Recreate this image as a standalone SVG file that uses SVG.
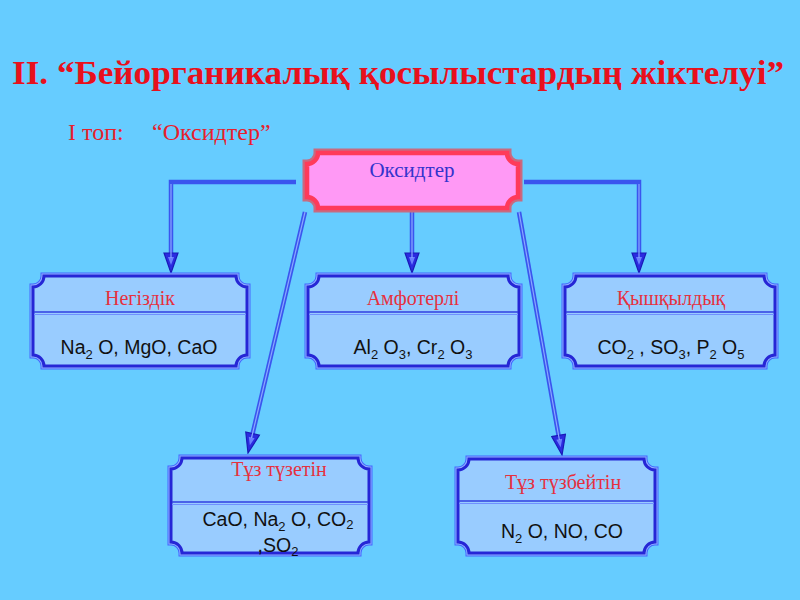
<svg xmlns="http://www.w3.org/2000/svg" width="800" height="600" viewBox="0 0 800 600">
<style>
.title{font-family:"Liberation Serif","Times New Roman",serif;font-weight:bold;font-size:34px;fill:#E8101C}
.sub1{font-family:"Liberation Serif","Times New Roman",serif;font-size:24px;fill:#E8202C}
.hdr{font-family:"Liberation Serif","Times New Roman",serif;font-size:20px;fill:#E6303E;text-anchor:middle}
.cnt{font-family:"Liberation Sans",Arial,sans-serif;font-size:19.5px;fill:#111;text-anchor:middle}
.s{font-size:13px}
.b1{fill:none;stroke:#4466FF;stroke-width:7}
.b2{fill:none;stroke:#8FB0FF;stroke-width:5}
.b3{fill:#99CCFF;stroke:#2626D6;stroke-width:3}
.dv{stroke:#3040E0;stroke-width:1.5}
.dv2{stroke:#7090FF;stroke-width:1}
.c{fill:none;stroke:#3A55EE;stroke-width:4.5}
.ci{fill:none;stroke:#8AA8FF;stroke-width:1.2}
</style>
<defs>
<marker id="ah" markerUnits="userSpaceOnUse" markerWidth="22" markerHeight="16" viewBox="0 0 22 16" refX="11" refY="8" orient="auto">
<path d="M1,1 L21,8 L1,15 Z" fill="#2B2BE0" stroke="#1A1AB8" stroke-width="1.2"/>
<path d="M5,5 L13,8 L5,11 Z" fill="#6A80FF"/>
</marker>
</defs>
<rect width="800" height="600" fill="#66CCFF"/>
<text class="title" x="12" y="84" textLength="772" lengthAdjust="spacingAndGlyphs">II. “Бейорганикалық қосылыстардың жіктелуі”</text>
<text class="sub1" x="68" y="140">I топ:</text>
<text class="sub1" x="152" y="140">“Оксидтер”</text>

<g id="connectors">
<path class="c" d="M296,182 H171 V263" marker-end="url(#ah)"/>
<path class="ci" d="M171,184 V258"/>
<path class="c" d="M524,182 H639 V263" marker-end="url(#ah)"/>
<path class="ci" d="M639,184 V258"/>
<path class="c" d="M412,212 V263" marker-end="url(#ah)"/>
<path class="ci" d="M412,212 V258"/>
<path class="c" d="M305,212 L250.3,443.3" marker-end="url(#ah)"/>
<path class="ci" d="M305,212 L251.5,438"/>
<path class="c" d="M519,212 L560.3,445.2" marker-end="url(#ah)"/>
<path class="ci" d="M519,212 L559.4,440"/>
</g>

<g id="oksidter">
<path d="M318,153 H507 A11 11 0 0 0 518,164 V197 A11 11 0 0 0 507,208 H318 A11 11 0 0 0 307,197 V164 A11 11 0 0 0 318,153 Z" fill="#FF99F5" stroke="#C86A80" stroke-width="9"/>
<path d="M318,153 H507 A11 11 0 0 0 518,164 V197 A11 11 0 0 0 507,208 H318 A11 11 0 0 0 307,197 V164 A11 11 0 0 0 318,153 Z" fill="#FF99F5" stroke="#FF3A5A" stroke-width="4.5"/>
<text x="412" y="177" font-family="'Liberation Serif','Times New Roman',serif" font-size="21" fill="#3333CC" text-anchor="middle">Оксидтер</text>
</g>

<g id="negizdik">
<path class="b1" d="M44,276 H236 A11 11 0 0 0 247,287 V355 A11 11 0 0 0 236,366 H44 A11 11 0 0 0 33,355 V287 A11 11 0 0 0 44,276 Z"/>
<path class="b2" d="M44,276 H236 A11 11 0 0 0 247,287 V355 A11 11 0 0 0 236,366 H44 A11 11 0 0 0 33,355 V287 A11 11 0 0 0 44,276 Z"/>
<path class="b3" d="M44,276 H236 A11 11 0 0 0 247,287 V355 A11 11 0 0 0 236,366 H44 A11 11 0 0 0 33,355 V287 A11 11 0 0 0 44,276 Z"/>
<line class="dv" x1="34" y1="312" x2="246" y2="312"/><line class="dv2" x1="34" y1="314.5" x2="246" y2="314.5"/>
<text class="hdr" x="140" y="305">Негіздік</text>
<text class="cnt" x="139" y="354">Na<tspan class="s" dy="5">2</tspan><tspan dy="-5"> O, MgO, CaO</tspan></text>
</g>

<g id="amfoterli">
<path class="b1" d="M319,276 H508 A11 11 0 0 0 519,287 V355 A11 11 0 0 0 508,366 H319 A11 11 0 0 0 308,355 V287 A11 11 0 0 0 319,276 Z"/>
<path class="b2" d="M319,276 H508 A11 11 0 0 0 519,287 V355 A11 11 0 0 0 508,366 H319 A11 11 0 0 0 308,355 V287 A11 11 0 0 0 319,276 Z"/>
<path class="b3" d="M319,276 H508 A11 11 0 0 0 519,287 V355 A11 11 0 0 0 508,366 H319 A11 11 0 0 0 308,355 V287 A11 11 0 0 0 319,276 Z"/>
<line class="dv" x1="309" y1="312" x2="518" y2="312"/><line class="dv2" x1="309" y1="314.5" x2="518" y2="314.5"/>
<text class="hdr" x="413" y="305">Амфотерлі</text>
<text class="cnt" x="413" y="354">Al<tspan class="s" dy="5">2</tspan><tspan dy="-5"> O</tspan><tspan class="s" dy="5">3</tspan><tspan dy="-5">, Cr</tspan><tspan class="s" dy="5">2</tspan><tspan dy="-5"> O</tspan><tspan class="s" dy="5">3</tspan></text>
</g>

<g id="qyshqyldyq">
<path class="b1" d="M576,276 H764 A11 11 0 0 0 775,287 V355 A11 11 0 0 0 764,366 H576 A11 11 0 0 0 565,355 V287 A11 11 0 0 0 576,276 Z"/>
<path class="b2" d="M576,276 H764 A11 11 0 0 0 775,287 V355 A11 11 0 0 0 764,366 H576 A11 11 0 0 0 565,355 V287 A11 11 0 0 0 576,276 Z"/>
<path class="b3" d="M576,276 H764 A11 11 0 0 0 775,287 V355 A11 11 0 0 0 764,366 H576 A11 11 0 0 0 565,355 V287 A11 11 0 0 0 576,276 Z"/>
<line class="dv" x1="566" y1="312" x2="774" y2="312"/><line class="dv2" x1="566" y1="314.5" x2="774" y2="314.5"/>
<text class="hdr" x="671" y="305">Қышқылдық</text>
<text class="cnt" x="671" y="354">CO<tspan class="s" dy="5">2</tspan><tspan dy="-5"> , SO</tspan><tspan class="s" dy="5">3</tspan><tspan dy="-5">, P</tspan><tspan class="s" dy="5">2</tspan><tspan dy="-5"> O</tspan><tspan class="s" dy="5">5</tspan></text>
</g>

<g id="tuz-tuzetin">
<path class="b1" d="M182,458 H358 A11 11 0 0 0 369,469 V542 A11 11 0 0 0 358,553 H182 A11 11 0 0 0 171,542 V469 A11 11 0 0 0 182,458 Z"/>
<path class="b2" d="M182,458 H358 A11 11 0 0 0 369,469 V542 A11 11 0 0 0 358,553 H182 A11 11 0 0 0 171,542 V469 A11 11 0 0 0 182,458 Z"/>
<path class="b3" d="M182,458 H358 A11 11 0 0 0 369,469 V542 A11 11 0 0 0 358,553 H182 A11 11 0 0 0 171,542 V469 A11 11 0 0 0 182,458 Z"/>
<line class="dv" x1="172" y1="502" x2="368" y2="502"/><line class="dv2" x1="172" y1="504.5" x2="368" y2="504.5"/>
<text class="hdr" x="279" y="476">Тұз түзетін</text>
<text class="cnt" x="278" y="526">CaO, Na<tspan class="s" dy="5">2</tspan><tspan dy="-5"> O, CO</tspan><tspan class="s" dy="3">2</tspan></text>
<text class="cnt" x="278" y="552">,SO<tspan class="s" dy="4">2</tspan></text>
</g>

<g id="tuz-tuzbeitin">
<path class="b1" d="M469,459 H644 A11 11 0 0 0 655,470 V542 A11 11 0 0 0 644,553 H469 A11 11 0 0 0 458,542 V470 A11 11 0 0 0 469,459 Z"/>
<path class="b2" d="M469,459 H644 A11 11 0 0 0 655,470 V542 A11 11 0 0 0 644,553 H469 A11 11 0 0 0 458,542 V470 A11 11 0 0 0 469,459 Z"/>
<path class="b3" d="M469,459 H644 A11 11 0 0 0 655,470 V542 A11 11 0 0 0 644,553 H469 A11 11 0 0 0 458,542 V470 A11 11 0 0 0 469,459 Z"/>
<line class="dv" x1="459" y1="501" x2="654" y2="501"/><line class="dv2" x1="459" y1="503.5" x2="654" y2="503.5"/>
<text class="hdr" x="563" y="489">Тұз түзбейтін</text>
<text class="cnt" x="562" y="538">N<tspan class="s" dy="5">2</tspan><tspan dy="-5"> O, NO, CO</tspan></text>
</g>
</svg>
